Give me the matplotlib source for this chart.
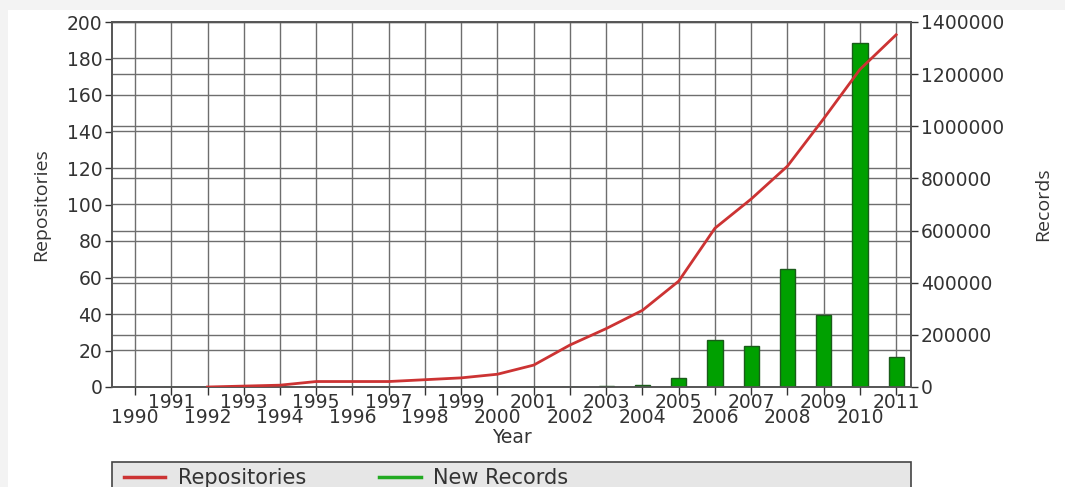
import matplotlib
matplotlib.use("Agg")
import matplotlib.pyplot as plt
from matplotlib.patches import Rectangle
import numpy as np

# data
years = list(range(1990, 2012))
repo_years = list(range(1992, 2012))
repositories = [0, 0.5, 1, 3, 3, 3, 4, 5, 7, 12, 23, 32, 42, 58, 87, 103, 121, 147, 174, 193]
new_records = [400, 300, 200, 200, 200, 300, 300, 400, 500, 800, 900, 1200, 1500,
               5000, 6000, 36000, 180000, 158000, 453000, 276000, 1320000, 115000]
odd_years = [y for y in years if y % 2]
even_years = [y for y in years if y % 2 == 0]
repo_ticks = list(range(0, 201, 20))
record_ticks = list(range(0, 1400001, 200000))

W, H = 1065, 487
fig = plt.figure(figsize=(W / 100, H / 100), dpi=100, facecolor='white')

# light grey screenshot border (top and left)
fig.patches.append(Rectangle((0, 1 - 10 / H), 1, 10 / H, transform=fig.transFigure,
                             facecolor='#f3f3f3', edgecolor='none', zorder=0))
fig.patches.append(Rectangle((0, 0), 8 / W, 1, transform=fig.transFigure,
                             facecolor='#f3f3f3', edgecolor='none', zorder=0))

left, right, top, bottom = 112, 911, 22, 387
ax = fig.add_axes([left / W, 1 - bottom / H, (right - left) / W, (bottom - top) / H])
ax2 = ax.twinx()

ax.set_ylim(0, 200)
ax.set_yticks(repo_ticks)
ax.set_xlim(1989.365, 2011.41)
# staggered year labels: odd years top row, even years bottom row
ax.set_xticks(odd_years)
ax.set_xticks(even_years, minor=True)
ax.set_xticklabels([str(y) for y in odd_years])
ax.set_xticklabels([str(y) for y in even_years], minor=True)

# bars on the right axis, all grid lines behind them
grid_kw = dict(color='#6e6e6e', linewidth=1.0, zorder=1)
ax2.set_facecolor('#dedede')
ax2.set_ylim(0, 1400000)
ax2.set_yticks(record_ticks)
ax2.set_yticklabels([str(v) for v in record_ticks])
ax2.grid(True, axis='y', **grid_kw)
# left axis grid, mapped onto the right scale
scale = 1400000 / 200
for v in repo_ticks:
    ax2.axhline(v * scale, **grid_kw)
for y in years:
    ax2.axvline(y, **grid_kw)
ax2.bar(years, new_records, width=0.42, color='#00a000', edgecolor='#1a5c1a',
        linewidth=1.0, zorder=3)
ax2.set_ylabel('Records', fontsize=14, family='Open Sans', color='#333333', labelpad=22)

# line on the left axis, drawn above the bars
ax.set_zorder(ax2.get_zorder() + 1)
ax.patch.set_visible(False)
ax.plot(repo_years, repositories, color='#cc3333', linewidth=2.0, zorder=4,
        label='Repositories')
ax.set_ylabel('Repositories', fontsize=14, family='Open Sans', color='#333333', labelpad=12)
ax.set_xlabel('Year', fontsize=13.5, color='#333333', labelpad=1)

for a in (ax, ax2):
    a.tick_params(labelsize=13.5, colors='#333333', length=5, width=1.0,
                  direction='out', pad=2)
    for s in a.spines.values():
        s.set_color('#555555')
        s.set_linewidth(1.2)
ax.tick_params(axis='x', which='major', length=6, pad=-2)
ax.tick_params(axis='x', which='minor', length=6, pad=9, labelsize=13.5,
               colors='#333333', width=1.0)

# legend box below the plot, cut by the bottom edge
fig.patches.append(Rectangle((left / W, -0.05), (right - left) / W, 0.05 + (487 - 462) / H,
                             transform=fig.transFigure, facecolor='#e6e6e6',
                             edgecolor='#444444', linewidth=1.2, zorder=1))
h1, l1 = ax.get_legend_handles_labels()
h2 = [plt.Line2D([], [], color='#22aa22', linewidth=2.5)]
leg = fig.legend(h1 + h2, l1 + ['New Records'], loc='center left',
                 bbox_to_anchor=(105 / W, 1 - 478 / H), ncol=2, frameon=False,
                 fontsize=15, handlelength=2.0, handletextpad=0.6, columnspacing=3.5,
                 labelcolor='#333333')
for ln in leg.get_lines():
    ln.set_linewidth(2.5)

fig.savefig('out.png', dpi=100, facecolor=fig.get_facecolor())
